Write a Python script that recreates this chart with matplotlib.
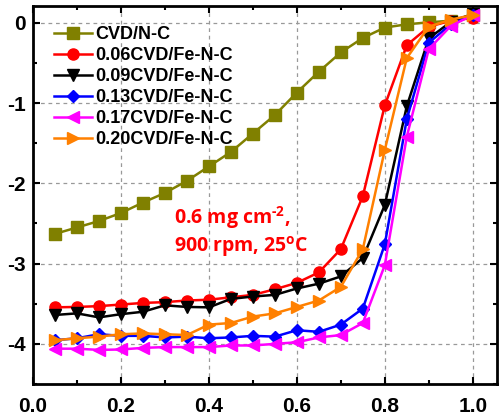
import numpy as np
import matplotlib.pyplot as plt
from matplotlib.ticker import MultipleLocator

# -----------------------------
# Data: LSV curves (current density vs potential)
# -----------------------------
potential = [0.05, 0.10, 0.15, 0.20, 0.25, 0.30, 0.35, 0.40, 0.45, 0.50,
             0.55, 0.60, 0.65, 0.70, 0.75, 0.80, 0.85, 0.90, 0.95, 1.00]

cvd_nc = [-2.63, -2.55, -2.47, -2.37, -2.24, -2.12, -1.97, -1.79, -1.61, -1.38,
          -1.15, -0.87, -0.61, -0.37, -0.19, -0.06, -0.02, 0.005, 0.025, 0.10]
fe_006 = [-3.545, -3.54, -3.53, -3.51, -3.49, -3.48, -3.46, -3.45, -3.42, -3.39,
          -3.32, -3.24, -3.11, -2.82, -2.16, -1.03, -0.28, -0.05, 0.025, 0.06]
fe_009 = [-3.64, -3.62, -3.67, -3.63, -3.60, -3.52, -3.54, -3.545, -3.44, -3.41,
          -3.39, -3.31, -3.25, -3.16, -2.93, -2.27, -1.04, -0.195, 0.01, 0.11]
fe_013 = [-3.955, -3.93, -3.88, -3.90, -3.90, -3.92, -3.91, -3.93, -3.92, -3.90,
          -3.91, -3.83, -3.85, -3.76, -3.56, -2.76, -1.20, -0.25, -0.02, 0.095]
fe_017 = [-4.06, -4.06, -4.075, -4.07, -4.05, -4.04, -4.04, -4.04, -4.02, -4.02,
          -4.00, -3.98, -3.92, -3.89, -3.74, -3.02, -1.42, -0.33, -0.04, 0.095]
fe_020 = [-3.955, -3.93, -3.91, -3.88, -3.87, -3.88, -3.89, -3.76, -3.74, -3.66,
          -3.62, -3.54, -3.46, -3.29, -2.82, -1.585, -0.44, -0.05, 0.04, 0.095]

series = [
    ("CVD/N-C", cvd_nc, "#808000", "s"),
    ("0.06CVD/Fe-N-C", fe_006, "#ff0000", "o"),
    ("0.09CVD/Fe-N-C", fe_009, "#000000", "v"),
    ("0.13CVD/Fe-N-C", fe_013, "#0000ff", "D"),
    ("0.17CVD/Fe-N-C", fe_017, "#ff00ff", "<"),
    ("0.20CVD/Fe-N-C", fe_020, "#ff8000", ">"),
]

# -----------------------------
# Plot
# -----------------------------
plt.rcParams["font.family"] = ["Liberation Sans", "DejaVu Sans"]
plt.rcParams["font.weight"] = "bold"
plt.rcParams["axes.unicode_minus"] = False
plt.rcParams["mathtext.fontset"] = "custom"
plt.rcParams["mathtext.rm"] = "Open Sans:bold"
plt.rcParams["mathtext.default"] = "rm"

fig = plt.figure(figsize=(5, 4.19), dpi=100)
ax = fig.add_axes([0.066, 0.0835, 0.927, 0.9025])

for label, vals, color, marker in series:
    ms = 6 if marker == "D" else 8
    ax.plot(potential, vals, color=color, marker=marker, markersize=ms,
            linewidth=1.8, label=label)

ax.set_xlim(0, 1.054)
ax.set_ylim(-4.5, 0.21)
ax.xaxis.set_major_locator(MultipleLocator(0.2))
ax.xaxis.set_minor_locator(MultipleLocator(0.1))
ax.yaxis.set_major_locator(MultipleLocator(1))
ax.yaxis.set_minor_locator(MultipleLocator(0.5))
ax.xaxis.set_major_formatter(plt.FormatStrFormatter("%.1f"))

ax.grid(True, which="major", linestyle=(0, (3, 3)), color="#999999", linewidth=0.9)
ax.tick_params(which="both", direction="in", top=True, right=True, width=1.5)
ax.tick_params(which="major", length=5, labelsize=15)
ax.tick_params(axis="x", which="major", pad=9)
ax.tick_params(axis="y", which="major", pad=5)
ax.tick_params(which="minor", length=3)
for sp in ax.spines.values():
    sp.set_linewidth(2)

ax.legend(loc="upper left", bbox_to_anchor=(0.022, 0.975), frameon=False,
          prop={"weight": "bold", "size": 13}, handlelength=2.1,
          handletextpad=0.2, labelspacing=0.22, borderaxespad=0.2)

ax.text(0.32, -2.6, "0.6 mg cm$^{\\text{-2}}$,\n900 rpm, 25$^{o}$C", color="#ff0000",
        fontsize=14, fontweight="bold", family="Open Sans", linespacing=1.2,
        va="center", ha="left")

plt.savefig("out.png", dpi=100)
